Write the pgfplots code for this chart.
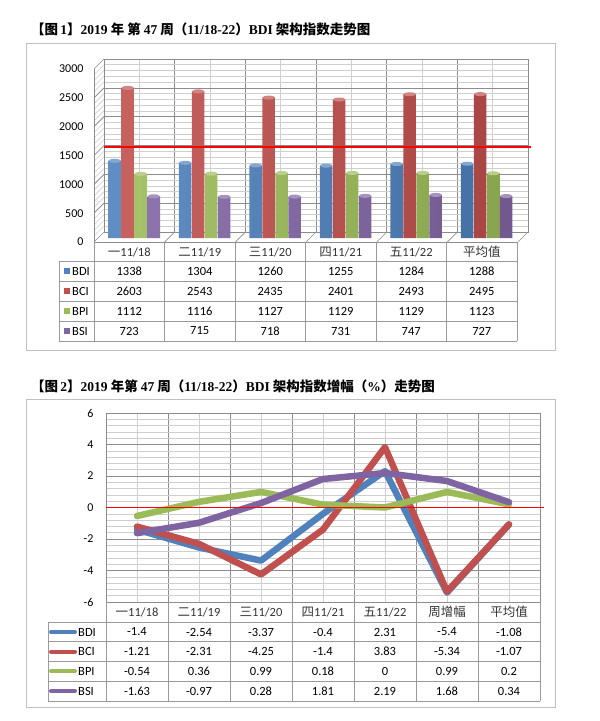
\documentclass[border=0pt]{standalone}
\usepackage{pgfplots}
\pgfplotsset{compat=1.18}
\usetikzlibrary{shapes.geometric}
\usepackage{fontspec}
\setmainfont{Carlito}
\newfontfamily\cjk{Noto Sans CJK SC}
\newfontfamily\tnr{Liberation Serif}

\definecolor{cBDI}{HTML}{4F81BD}
\definecolor{cBCI}{HTML}{C0504D}
\definecolor{cBPI}{HTML}{9BBB59}
\definecolor{cBSI}{HTML}{8064A2}
\definecolor{gridD}{HTML}{8C8C8C}
\definecolor{gridL}{HTML}{CFCFCF}
\definecolor{frameC}{HTML}{BFBFBF}
\definecolor{tbl}{HTML}{9A9A9A}

\pgfplotsset{
  cyl/.style={draw=none, left color=#1!90!white, middle color=#1!55!white, right color=#1!88!black,
    nodes near coords={},
    every node near coord/.append style={ellipse, fill=#1!70!white, draw=none,
      minimum width=12.5pt, minimum height=4pt, inner sep=0pt, anchor=center}},
  thick line/.style={#1, line width=6.5pt, line join=round, line cap=round},
}

\begin{document}
\begin{tikzpicture}
\path[use as bounding box] (0pt,0pt) rectangle (600pt,-721pt);

% ---------------- chart 1 ----------------
\begin{scope}[x=1pt,y=-1pt]
\draw[frameC, line width=1pt] (26,43) rectangle (555,350);
\node[anchor=west, inner sep=0pt, font=\fontsize{13.5}{15}\selectfont\bfseries] at (31,29)
  {{\cjk 【图}\,{\tnr 1}{\cjk 】}{\tnr 2019} {\cjk 年}\ {\cjk 第} {\tnr 47} {\cjk 周（}{\tnr 11/18-22}{\cjk ）}{\tnr BDI} {\cjk 架构指数走势图}};
\end{scope}

% back wall with grid
\begin{axis}[
  at={(104pt,-232pt)}, anchor=south west, scale only axis,
  width=424pt, height=173pt,
  xmin=-0.5, xmax=5.5, ymin=0, ymax=3000,
  xtick={-0.5,0.5,...,5.5}, minor xtick={0,...,5},
  ytick={0,500,...,3000}, minor ytick={100,200,...,2900},
  xticklabels={}, yticklabels={},
  grid=both,
  major grid style={gridD, line width=0.6pt},
  minor grid style={gridL, line width=0.6pt},
  tick style={draw=none}, axis line style={gridD, line width=0.6pt},
  clip=false]
  \pgfplotsinvokeforeach{100,200,...,2900}{
    \draw[gridL, line width=0.6pt] (axis cs:-0.5,#1) -- ++(-10pt,-10pt);
  }
  \pgfplotsinvokeforeach{500,1000,...,3000}{
    \draw[gridD, line width=0.6pt] (axis cs:-0.5,#1) -- ++(-10pt,-10pt);
  }
  \pgfplotsinvokeforeach{-0.5,0.5,...,5.5}{
    \draw[gridD, line width=0.6pt] (axis cs:#1,0) -- ++(-10pt,-10pt);
  }
  \draw[gridD, line width=0.6pt] (axis cs:-0.5,0) ++(-10pt,-10pt) -- ++(0pt,173pt);
  \draw[gridD, line width=0.6pt] (axis cs:-0.5,0) ++(-10pt,-10pt) -- ++(424pt,0pt);
\end{axis}

% bars
\begin{axis}[
  at={(99pt,-238pt)}, anchor=south west, scale only axis,
  width=423pt, height=173pt,
  xmin=-0.5, xmax=5.5, ymin=0, ymax=3000,
  hide axis, clip=false,
  ybar=0.5pt, bar width=12.5pt]
  \addplot[cyl=cBDI] coordinates {(0,1338) (1,1304) (2,1260) (3,1255) (4,1284) (5,1288)};
  \addplot[cyl=cBCI] coordinates {(0,2603) (1,2543) (2,2435) (3,2401) (4,2493) (5,2495)};
  \addplot[cyl=cBPI] coordinates {(0,1112) (1,1116) (2,1127) (3,1129) (4,1129) (5,1123)};
  \addplot[cyl=cBSI] coordinates {(0,723) (1,715) (2,718) (3,731) (4,747) (5,727)};
\end{axis}

% front: tick labels and red line
\begin{axis}[
  at={(94pt,-242pt)}, anchor=south west, scale only axis,
  width=423pt, height=173pt,
  xmin=-0.5, xmax=5.5, ymin=0, ymax=3000,
  axis line style={draw=none}, tick style={draw=none},
  xtick=\empty, ytick={0,500,...,3000},
  /pgf/number format/1000 sep={},
  /pgf/number format/assume math mode=true,
  yticklabel style={font=\fontsize{12}{14}\selectfont, xshift=-7pt},
  clip=false]
  \addplot[red, line width=1.6pt] coordinates {(-0.36,1647) (5.70,1647)};
\end{axis}

\begin{scope}[x=1pt,y=-1pt, font=\fontsize{12.5}{14}\selectfont]
  \foreach \yy in {261,281,301,321,341} \draw[tbl, line width=0.7pt] (59,\yy) -- (517,\yy);
  \draw[tbl, line width=0.7pt] (59,261) -- (59,341);
  \foreach \xx in {94,164.5,235,305.5,376,446.5,517} \draw[tbl, line width=0.7pt] (\xx,242) -- (\xx,341);
  \foreach \lab [count=\i from 0] in {{\cjk 一}11/18,{\cjk 二}11/19,{\cjk 三}11/20,{\cjk 四}11/21,{\cjk 五}11/22,{\cjk 平均值}}
    \node[text=black!80] at ({129.25+70.5*\i},252) {\lab};
  \foreach \nm/\cc/\yy in {BDI/cBDI/271,BCI/cBCI/291,BPI/cBPI/311,BSI/cBSI/331}{
    \fill[\cc] (63.5,{\yy-3}) rectangle (69.5,{\yy+3});
    \node[anchor=west, inner sep=0pt] at (72,\yy) {\nm};
  }
  \foreach \a/\b/\c/\d/\e/\f [count=\r from 0] in {
      1338/1304/1260/1255/1284/1288,
      2603/2543/2435/2401/2493/2495,
      1112/1116/1127/1129/1129/1123,
      723/715/718/731/747/727}{
    \node at (129.25,{271+20*\r}) {\a};
    \node at (199.75,{271+20*\r}) {\b};
    \node at (270.25,{271+20*\r}) {\c};
    \node at (340.75,{271+20*\r}) {\d};
    \node at (411.25,{271+20*\r}) {\e};
    \node at (481.75,{271+20*\r}) {\f};
  }
\end{scope}

% ---------------- chart 2 ----------------
\begin{scope}[x=1pt,y=-1pt]
\draw[frameC, line width=1pt] (26,399) rectangle (555,707);
\node[anchor=west, inner sep=0pt, font=\fontsize{13.5}{15}\selectfont\bfseries] at (31,386)
  {{\cjk 【图}\,{\tnr 2}{\cjk 】}{\tnr 2019} {\cjk 年第} {\tnr 47} {\cjk 周（}{\tnr 11/18-22}{\cjk ）}{\tnr BDI} {\cjk 架构指数增幅（}{\tnr \%}{\cjk ）走势图}};
\end{scope}

\begin{axis}[
  at={(106pt,-602pt)}, anchor=south west, scale only axis,
  width=434pt, height=189pt,
  xmin=-0.5, xmax=6.5, ymin=-6, ymax=6,
  xtick={-0.5,0.5,...,6.5}, minor xtick={0,...,6},
  ytick={-6,-4,...,6}, minor y tick num=4,
  xticklabels={},
  grid=both,
  major grid style={gridD, line width=0.6pt},
  minor grid style={gridL, line width=0.6pt},
  tick style={draw=none}, axis line style={gridD, line width=0.6pt},
  /pgf/number format/assume math mode=true,
  yticklabel style={font=\fontsize{12}{14}\selectfont, xshift=-9pt},
  clip=false]
  \addplot[thick line=cBDI] coordinates {(0,-1.4) (1,-2.54) (2,-3.37) (3,-0.4) (4,2.31) (5,-5.4) (6,-1.08)};
  \addplot[thick line=cBCI] coordinates {(0,-1.21) (1,-2.31) (2,-4.25) (3,-1.4) (4,3.83) (5,-5.34) (6,-1.07)};
  \addplot[thick line=cBPI] coordinates {(0,-0.54) (1,0.36) (2,0.99) (3,0.18) (4,0) (5,0.99) (6,0.2)};
  \addplot[thick line=cBSI] coordinates {(0,-1.63) (1,-0.97) (2,0.28) (3,1.81) (4,2.19) (5,1.68) (6,0.34)};
  \addplot[red, line width=1.8pt] coordinates {(-0.5,0) (6.565,0)};
\end{axis}

\begin{scope}[x=1pt,y=-1pt, font=\fontsize{12.5}{14}\selectfont]
  \foreach \yy in {622,641.5,661,681,701} \draw[tbl, line width=0.7pt] (48,\yy) -- (540,\yy);
  \draw[tbl, line width=0.7pt] (48,622) -- (48,701);
  \foreach \xx in {106,168,230,292,354,416,478,540} \draw[tbl, line width=0.7pt] (\xx,602) -- (\xx,701);
  \foreach \lab [count=\i from 0] in {{\cjk 一}11/18,{\cjk 二}11/19,{\cjk 三}11/20,{\cjk 四}11/21,{\cjk 五}11/22,{\cjk 周增幅},{\cjk 平均值}}
    \node[text=black!80] at ({137+62*\i},612) {\lab};
  \foreach \nm/\cc/\yy in {BDI/cBDI/632,BCI/cBCI/651.5,BPI/cBPI/671,BSI/cBSI/691}{
    \draw[\cc, line width=4pt, line cap=round] (51,\yy) -- (75,\yy);
    \node[anchor=west, inner sep=0pt] at (78,\yy) {\nm};
  }
  \foreach \a/\b/\c/\d/\e/\f/\g [count=\r from 0] in {
      -1.4/-2.54/-3.37/-0.4/2.31/-5.4/-1.08,
      -1.21/-2.31/-4.25/-1.4/3.83/-5.34/-1.07,
      -0.54/0.36/0.99/0.18/0/0.99/0.2,
      -1.63/-0.97/0.28/1.81/2.19/1.68/0.34}{
    \node at (137,{632+19.67*\r}) {\a};
    \node at (199,{632+19.67*\r}) {\b};
    \node at (261,{632+19.67*\r}) {\c};
    \node at (323,{632+19.67*\r}) {\d};
    \node at (385,{632+19.67*\r}) {\e};
    \node at (447,{632+19.67*\r}) {\f};
    \node at (509,{632+19.67*\r}) {\g};
  }
\end{scope}
\end{tikzpicture}
\end{document}
